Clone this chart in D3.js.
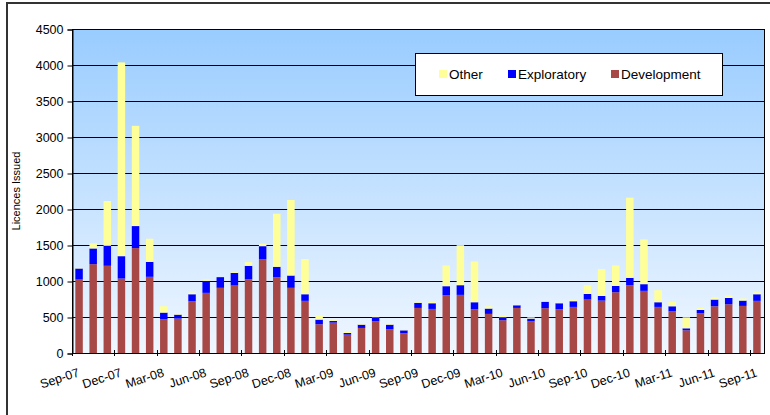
<!DOCTYPE html>
<html>
<head>
<meta charset="utf-8">
<script src="https://cdn.jsdelivr.net/npm/d3@7"></script>
<style>
  body { margin:0; background:#fff; }
  svg text { font-family: "Liberation Sans", Arial, sans-serif; fill:#000; }
</style>
</head>
<body>
<div id="chart"></div>
<script>
// month categories
var months = ["Sep-07","Oct-07","Nov-07","Dec-07","Jan-08","Feb-08","Mar-08","Apr-08","May-08","Jun-08","Jul-08","Aug-08",
  "Sep-08","Oct-08","Nov-08","Dec-08","Jan-09","Feb-09","Mar-09","Apr-09","May-09","Jun-09","Jul-09","Aug-09",
  "Sep-09","Oct-09","Nov-09","Dec-09","Jan-10","Feb-10","Mar-10","Apr-10","May-10","Jun-10","Jul-10","Aug-10",
  "Sep-10","Oct-10","Nov-10","Dec-10","Jan-11","Feb-11","Mar-11","Apr-11","May-11","Jun-11","Jul-11","Aug-11","Sep-11"];

var development = [1020,1234,1211,1034,1457,1058,469,478,719,835,905,937,
  1025,1304,1053,905,724,399,422,255,348,441,329,274,
  626,612,803,807,608,543,455,626,441,622,608,640,
  742,728,844,942,863,640,580,315,552,649,677,654,724];
var exploratory = [154,218,278,311,306,208,92,55,97,167,148,176,
  186,180,144,171,92,65,23,23,46,55,65,41,
  70,79,125,135,97,74,41,37,37,88,83,79,
  79,65,88,102,93,65,69,28,46,93,88,74,92];
var other = [10,70,622,2691,1392,321,88,14,24,18,0,14,
  51,33,737,1049,488,56,10,14,14,10,14,5,
  9,19,287,556,566,32,19,5,18,4,5,14,
  121,371,283,1113,621,167,61,153,28,28,33,28,28];

var seriesKeys = ["Development","Exploratory","Other"];
var legendKeys = ["Other","Exploratory","Development"];
var colors = {Development:"#A84846", Exploratory:"#0000FF", Other:"#FFFF99"};
var yTicks = d3.range(0, 4501, 500);

var W = 770, H = 415;
var plot = {left:72, right:764, top:29, bottom:353};

var svg = d3.select('#chart').append('svg')
    .attr('width', W).attr('height', H);

// outer chart frame
svg.append('rect')
    .attr('x', 7).attr('y', 3).attr('width', 780).attr('height', 430)
    .attr('fill', '#fff').attr('stroke', '#333').attr('stroke-width', 2);

var grad = svg.append('defs').append('linearGradient')
    .attr('id', 'bg').attr('x1', 0).attr('y1', 0).attr('x2', 0).attr('y2', 1);
grad.append('stop').attr('offset', '0%').attr('stop-color', '#99CCFF');
grad.append('stop').attr('offset', '100%').attr('stop-color', '#F0F7FF');

var x = d3.scaleBand()
    .domain(months)
    .range([plot.left, plot.right])
    .paddingInner(0.47)
    .paddingOuter(0.235);

var y = d3.scaleLinear()
    .domain([0, 4500])
    .range([plot.bottom, plot.top]);

svg.append('rect')
    .attr('x', plot.left).attr('y', plot.top)
    .attr('width', plot.right - plot.left).attr('height', plot.bottom - plot.top)
    .attr('fill', 'url(#bg)');

// gridlines
svg.append('g').selectAll('line')
    .data(yTicks.slice(1))
    .enter().append('line')
    .attr('x1', plot.left).attr('x2', plot.right)
    .attr('y1', function(d){ return Math.round(y(d)) + 0.5; })
    .attr('y2', function(d){ return Math.round(y(d)) + 0.5; })
    .attr('stroke', '#000').attr('stroke-width', 1);

// stacked bars
var rows = months.map(function(m, i) {
  return {month:m, Development:development[i], Exploratory:exploratory[i], Other:other[i]};
});
var stacked = d3.stack().keys(seriesKeys)(rows);

svg.append('g').selectAll('g')
    .data(stacked)
    .enter().append('g')
    .attr('fill', function(d){ return colors[d.key]; })
  .selectAll('rect')
    .data(function(d){ return d; })
    .enter().append('rect')
    .attr('x', function(d){ return x(d.data.month); })
    .attr('width', x.bandwidth())
    .attr('y', function(d){ return y(d[1]); })
    .attr('height', function(d){ return y(d[0]) - y(d[1]); });

// plot border
svg.append('rect')
    .attr('x', plot.left + 0.5).attr('y', plot.top + 0.5)
    .attr('width', plot.right - plot.left).attr('height', plot.bottom - plot.top)
    .attr('fill', 'none').attr('stroke', '#000').attr('stroke-width', 1);

// y axis
var yAxis = svg.append('g')
    .attr('transform', 'translate(' + (plot.left + 0.5) + ',0.5)')
    .call(d3.axisLeft(y).tickValues(yTicks).tickFormat(d3.format('d')).tickSize(5).tickPadding(4));
yAxis.select('.domain').attr('stroke', '#000');
yAxis.selectAll('text').style('font-size', '12.5px')
    .style('font-family', '"Liberation Sans", Arial, sans-serif');

svg.append('text')
    .attr('transform', 'translate(20,' + ((plot.top + plot.bottom) / 2) + ') rotate(-90)')
    .attr('text-anchor', 'middle')
    .style('font-size', '11px')
    .text('Licences Issued');

// x axis: ticks at category boundaries every 3 months, labels under categories
var step = x.step();
var labelled = months.filter(function(m, i){ return i % 3 === 0; });

svg.append('line')
    .attr('x1', plot.left).attr('x2', plot.right)
    .attr('y1', plot.bottom + 0.5).attr('y2', plot.bottom + 0.5)
    .attr('stroke', '#000');

svg.append('g').selectAll('line')
    .data(labelled)
    .enter().append('line')
    .attr('x1', function(m){ return Math.round(x(m) + x.bandwidth()/2 - step/2) + 0.5; })
    .attr('x2', function(m){ return Math.round(x(m) + x.bandwidth()/2 - step/2) + 0.5; })
    .attr('y1', plot.bottom - 3).attr('y2', plot.bottom + 3)
    .attr('stroke', '#000');

svg.append('g').selectAll('text')
    .data(labelled)
    .enter().append('text')
    .attr('transform', function(m){
      return 'translate(' + (x(m) + x.bandwidth()/2 + 1) + ',376) rotate(-18)';
    })
    .attr('text-anchor', 'end')
    .style('font-size', '12.5px')
    .text(function(m){ return m; });

// legend
var lg = svg.append('g');
lg.append('rect')
    .attr('x', 415.5).attr('y', 53.5).attr('width', 307).attr('height', 42)
    .attr('fill', '#fff').attr('stroke', '#000');
var legX = {Other:439, Exploratory:508, Development:611};
var item = lg.selectAll('g.item')
    .data(legendKeys)
    .enter().append('g').attr('class', 'item')
    .attr('transform', function(k){ return 'translate(' + legX[k] + ',74)'; });
item.append('rect')
    .attr('x', 0).attr('y', -4).attr('width', 8).attr('height', 8)
    .attr('fill', function(k){ return colors[k]; });
item.append('text')
    .attr('x', 10).attr('y', 5)
    .style('font-size', '13.5px')
    .text(function(k){ return k; });
</script>
</body>
</html>
